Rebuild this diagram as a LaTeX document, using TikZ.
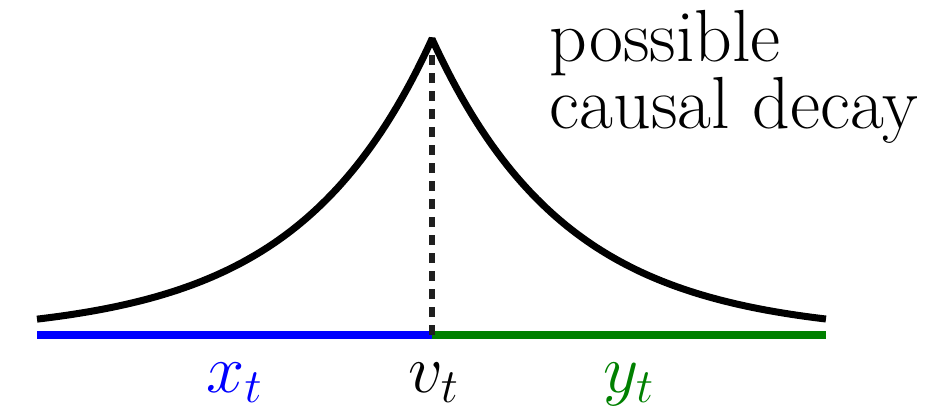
\documentclass[tikz,border=0pt]{standalone}
\usepackage{fix-cm}
\usetikzlibrary{positioning}
\definecolor{myblue}{RGB}{0,0,255}
\definecolor{mygreen}{RGB}{0,128,0}
\tikzset{
	decaycurve/.style={line width=0.07cm, line join=bevel}
}
\tikzset{
	axisline/.style={line width=0.08cm}
}
\tikzset{
	peakline/.style={line width=0.055cm, black!88, dash pattern=on 0.1cm off 0.08cm}
}
\tikzset{
	bigtext/.style={font=\fontsize{19.5}{24}\selectfont, inner sep=0pt}
}
\tikzset{
	wordtext/.style={font=\fontsize{21}{25}\selectfont, inner sep=0pt}
}

\begin{document}
\begin{tikzpicture}
	\useasboundingbox (0,0) rectangle (9.27,4.10);

	\begin{scope}
		\coordinate (left) at (0.37,0.75);
		\coordinate (mid) at (4.32,0.75);
		\coordinate (right) at (8.26,0.75);
		\coordinate (peak) at (4.32,3.71);
	\end{scope}

	\begin{scope}
		\draw[axisline, myblue] (left) -- (mid);
		\draw[axisline, mygreen] (mid) -- (right);
		\draw[peakline] (mid) -- (peak);

		\draw[decaycurve]
			plot[domain=0.37:4.32, samples=80] (\x,{0.75+2.96*exp(-(4.32-\x)/1.35)}) --
			plot[domain=4.32:8.26, samples=80] (\x,{0.75+2.96*exp(-(\x-4.32)/1.35)});
	\end{scope}

	\node[bigtext, anchor=base, myblue] (xlab) at (2.35,0.18) {$x_t$};
	\node[bigtext, anchor=base] (vlab) at (4.34,0.18) {$v_t$};
	\node[bigtext, anchor=base, mygreen] (ylab) at (6.29,0.18) {$y_t$};

	\node[wordtext, anchor=base west] (poss) at (5.49,3.48) {possible};
	\node[wordtext, anchor=base west] (caus) at ([yshift=-0.67cm]poss.base west) {causal decay};

\end{tikzpicture}
\end{document}
